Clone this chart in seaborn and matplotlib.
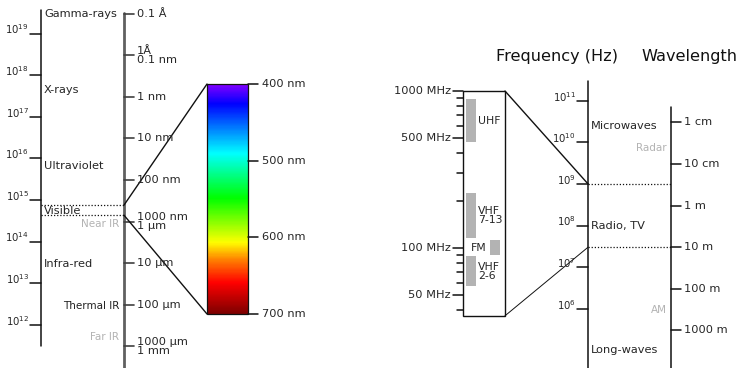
import numpy as np
import matplotlib
matplotlib.use("Agg")
import matplotlib.pyplot as plt
import seaborn as sns
from matplotlib.colors import LinearSegmentedColormap

# ---- data ----
c = 3e8

# left panel: frequency decades and region labels (log10 Hz)
left_freq_exp = [19, 18, 17, 16, 15, 14, 13, 12]
left_regions = ["Gamma-rays", "X-rays", "Ultraviolet", "Visible", "Infra-red"]
left_region_pos = [19.47, 17.64, 15.815, 14.74, 13.46]
left_sub = ["Near IR", "Thermal IR", "Far IR"]
left_sub_pos = [14.42, 12.46, 11.70]
left_sub_color = ["#b3b3b3", "#222222", "#b3b3b3"]

# left panel: wavelength ticks (m)
left_wl_m = [1e-11, 1e-10, 1e-9, 1e-8, 1e-7, 1e-6, 1e-5, 1e-4, 1e-3]
left_wl_labels = ["0.1 Å", "1Å\n0.1 nm", "1 nm", "10 nm", "100 nm",
                  "1000 nm\n1 μm", "10 μm", "100 μm", "1000 μm\n1 mm"]

# visible band (nm)
visible_nm = [400, 500, 600, 700]
spec_nm = [400, 425, 490, 549, 607, 630, 660, 700]
spec_col = ["#7f00ff", "#0000ff", "#00ffff", "#00ff00", "#ffff00",
            "#ff8000", "#ff0000", "#7f0000"]

# zoomed radio box (MHz)
box_major = [1000, 500, 100, 50]
box_major_labels = ["1000 MHz", "500 MHz", "100 MHz", "50 MHz"]
box_minor = [900, 800, 700, 600, 400, 300, 200, 90, 80, 70, 60, 40]
box_range = [1000, 37]
bands = ["UHF", "VHF\n7-13", "FM", "VHF\n2-6"]
band_hi = [890, 225, 112, 89]
band_lo = [470, 115, 90, 57]
band_col = [0, 0, 1, 0]          # 0 = left column, 1 = right column

# right panel: frequency decades and labels
right_freq_exp = [11, 10, 9, 8, 7, 6]
right_regions = ["Microwaves", "Radio, TV", "Long-waves"]
right_region_pos = [10.40, 7.99, 5.01]
right_sub = ["Radar", "AM"]
right_sub_pos = [9.86, 5.97]
right_bounds_hz = [1e9, 3e7]

right_wl_m = [0.01, 0.1, 1, 10, 100, 1000]
right_wl_labels = ["1 cm", "10 cm", "1 m", "10 m", "100 m", "1000 m"]

# ---- scales (pixel layout) ----
DEC = 41.6


def yl(logf):
    return 33.5 + (19 - logf) * DEC


def yr(logf):
    return 100.7 + (11 - logf) * DEC


def yv(nm):
    return 84 + (nm - 400) * 230 / 300


def yb(mhz):
    return 91 + np.log10(1000 / mhz) * 157


sns.set_theme(style="white")
plt.rcParams["font.family"] = ["DejaVu Sans"]
plt.rcParams["mathtext.fontset"] = "dejavusans"

fig = plt.figure(figsize=(7.4, 3.68), dpi=100)
ax = fig.add_axes([0, 0, 1, 1])
ax.set_xlim(0, 740)
ax.set_ylim(368, 0)
ax.axis("off")

fs = 8.2
k = "#111111"

# left frequency axis
XF = 41
ax.plot([XF, XF], [10, 346], color=k, lw=1.1)
for e in left_freq_exp:
    y = yl(e)
    ax.plot([30, XF], [y, y], color=k, lw=1.1)
    ax.text(29, y + 1, "$10^{%d}$" % e, ha="right", va="baseline", fontsize=7.3)
for t, p in zip(left_regions, left_region_pos):
    ax.text(XF + 3, yl(p), t, ha="left", va="center", fontsize=fs)
for t, p, col in zip(left_sub, left_sub_pos, left_sub_color):
    ax.text(119, yl(p), t, ha="right", va="center", fontsize=fs - 0.7, color=col)

# left wavelength axis
XW = 124
ax.plot([XW, XW], [13, 368], color="#606060", lw=2)
for m, lab in zip(left_wl_m, left_wl_labels):
    y = yl(np.log10(c / m))
    ax.plot([XW, 134], [y, y], color="#404040", lw=1.2)
    ax.text(137, y, lab, ha="left", va="center", fontsize=fs, linespacing=0.85)

# visible boundaries
vis_y = [yl(np.log10(c / (nm * 1e-9))) for nm in (visible_nm[0], visible_nm[-1])]
for y in vis_y:
    ax.plot([XF, XW], [y, y], color=k, lw=0.9, ls=(0, (1, 1.5)))

# spectrum bar
cmap = LinearSegmentedColormap.from_list(
    "spec", list(zip([(n - 400) / 300 for n in spec_nm], spec_col)))
grad = np.linspace(400, 700, 300).reshape(-1, 1)
X0, X1 = 207, 248
ax.imshow(grad, cmap=cmap, aspect="auto", origin="upper",
          extent=[X0, X1, yv(700), yv(400)], vmin=400, vmax=700, zorder=1)
ax.add_patch(plt.Rectangle((X0, yv(400)), X1 - X0, yv(700) - yv(400),
                           fill=False, ec=k, lw=0.9, zorder=2))
for nm in visible_nm:
    y = yv(nm)
    ax.plot([X1, 258], [y, y], color=k, lw=1.1)
    ax.text(262, y, f"{nm} nm", ha="left", va="center", fontsize=fs)
ax.plot([XW, X0], [vis_y[0], yv(400)], color=k, lw=1)
ax.plot([XW, X0], [vis_y[1], yv(700)], color=k, lw=1)

# zoomed radio box
B0, B1 = 463, 505
ax.add_patch(plt.Rectangle((B0, yb(box_range[0])), B1 - B0,
                           yb(box_range[1]) - yb(box_range[0]),
                           fill=False, ec=k, lw=1))
for f, lab in zip(box_major, box_major_labels):
    y = yb(f)
    ax.plot([452.5, B0], [y, y], color=k, lw=1.1)
    ax.text(451, y, lab, ha="right", va="center", fontsize=fs)
for f in box_minor:
    y = yb(f)
    ax.plot([457, B0], [y, y], color=k, lw=1.1)
for name, hi, lo, col in zip(bands, band_hi, band_lo, band_col):
    bx = 466 if col == 0 else 489.5
    ax.add_patch(plt.Rectangle((bx, yb(hi)), 10, yb(lo) - yb(hi),
                               color="#b3b3b3", lw=0))
    if col == 0:
        ax.text(478, (yb(hi) + yb(lo)) / 2, name, ha="left", va="center",
                fontsize=fs - 0.4, linespacing=0.85)
    else:
        ax.text(487, (yb(hi) + yb(lo)) / 2, name, ha="right", va="center",
                fontsize=fs - 0.4)

# right frequency axis
XR = 588
ax.plot([XR, XR], [81, 368], color=k, lw=1.1)
for e in right_freq_exp:
    y = yr(e)
    ax.plot([577, XR], [y, y], color=k, lw=1.1)
    ax.text(576, y + 1, "$10^{%d}$" % e, ha="right", va="baseline", fontsize=7.3)
for t, p in zip(right_regions, right_region_pos):
    ax.text(XR + 3, yr(p), t, ha="left", va="center", fontsize=fs)

# right wavelength axis
XR2 = 671
ax.plot([XR2, XR2], [107, 368], color=k, lw=1.1)
for m, lab in zip(right_wl_m, right_wl_labels):
    y = yr(np.log10(c / m))
    ax.plot([XR2, 681], [y, y], color=k, lw=1.1)
    ax.text(684, y, lab, ha="left", va="center", fontsize=fs)
for t, p in zip(right_sub, right_sub_pos):
    ax.text(667, yr(p), t, ha="right", va="center", fontsize=fs - 0.7, color="#b3b3b3")

rb = [yr(np.log10(f)) for f in right_bounds_hz]
for y in rb:
    ax.plot([XR, XR2], [y, y], color=k, lw=0.9, ls=(0, (1, 1.5)))
ax.plot([B1, XR], [yb(box_range[0]), rb[0]], color=k, lw=1)
ax.plot([B1, XR], [yb(box_range[1]), rb[1]], color=k, lw=0.7)

# headings
ax.text(557.5, 56, "Frequency (Hz)", ha="center", va="center", color=k,
        family="DejaVu Sans", fontsize=11.6)
ax.text(737, 56, "Wavelength", ha="right", va="center", color=k,
        family="DejaVu Sans", fontsize=11.6)

fig.savefig("out.png", dpi=100)
